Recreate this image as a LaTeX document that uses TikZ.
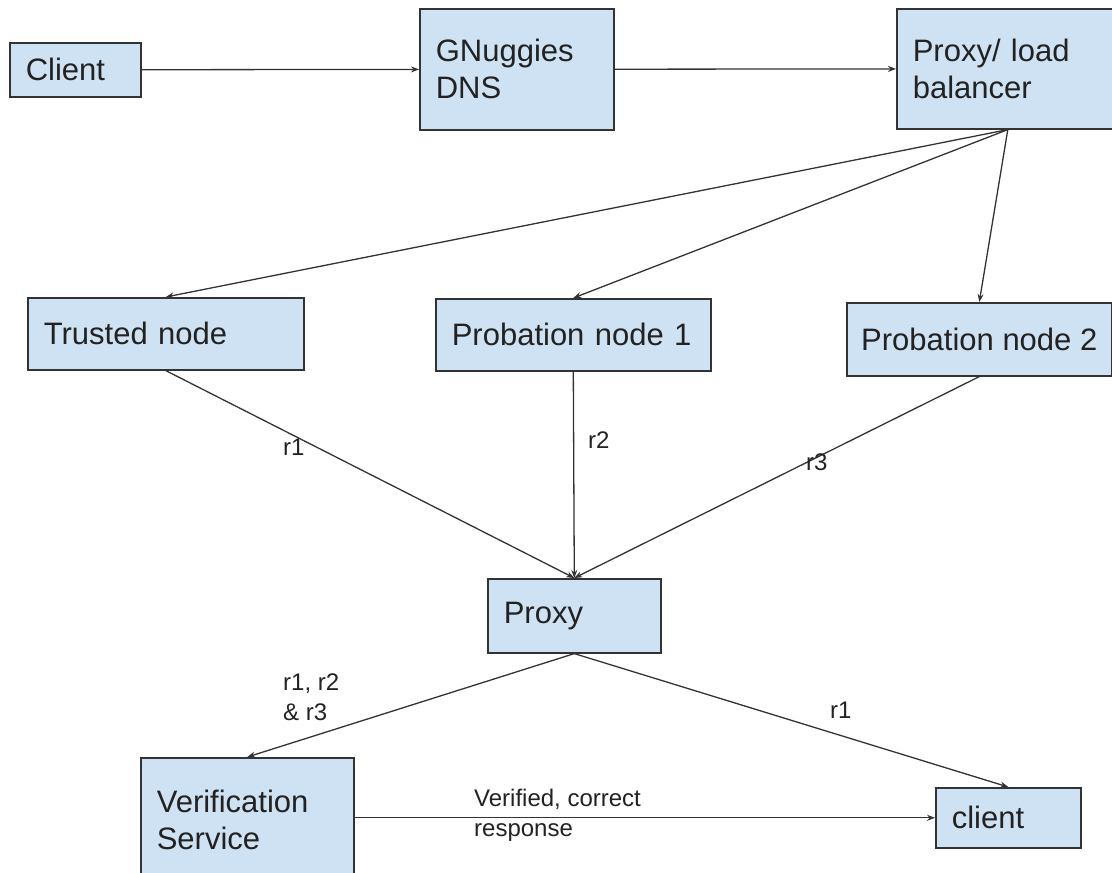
\documentclass[tikz,border=0pt]{standalone}
\usepackage{fontspec}
\setmainfont{Liberation Sans}
\usetikzlibrary{arrows.meta}
\definecolor{boxfill}{HTML}{CFE2F3}
\definecolor{ink}{HTML}{333333}
\definecolor{txt}{HTML}{222222}
\begin{document}
\begin{tikzpicture}[x=1pt,y=-1pt,
  box/.style={draw=ink, line width=1.6pt, fill=boxfill, rectangle, anchor=north west,
    inner xsep=16pt, inner ysep=0pt, align=left, text=txt,
    font=\fontsize{31}{37}\selectfont},
  lbl/.style={anchor=west, align=left, inner sep=0pt, text=txt,
    font=\fontsize{24}{30}\selectfont},
  link/.style={draw=ink, line width=1.3pt, -{Stealth[length=8pt,width=6pt]}}]
\useasboundingbox (0,0) rectangle (1112,873);

% boxes
\node[box, minimum width=131pt, minimum height=54pt, text width=99pt] (client) at (9,42) {Client};
\node[box, minimum width=194pt, minimum height=121pt, text width=162pt] (dns) at (419,8) {GNuggies\\DNS};
\node[box, minimum width=222pt, minimum height=120pt, text width=190pt] (lb) at (896,8) {Proxy/ load\\balancer};
\node[box, minimum width=276pt, minimum height=72pt, text width=244pt] (trusted) at (27,297) {Trusted node};
\node[box, minimum width=275pt, minimum height=72pt, text width=243pt] (prob1) at (435,298) {Probation node 1};
\node[box, inner xsep=2pt, minimum width=265pt, minimum height=73pt] (prob2) at (846,302) {Probation node 2};
\node[box, minimum width=173pt, minimum height=74pt, text width=141pt] (proxy) at (487,578) {Proxy};
\node[box, minimum width=213pt, minimum height=125pt, text width=181pt] (verif) at (140,757) {Verification\\Service};
\node[box, minimum width=145pt, minimum height=60pt, text width=113pt] (client2) at (935,787) {client};

% connectors
\draw[link] (client) -- (dns);
\draw[link] (dns) -- (lb);
\draw[link] (lb.south) -- (trusted.north);
\draw[link] (lb.south) -- (prob1.north);
\draw[link] (lb.south) -- (prob2.north);
\draw[link] (trusted.south) -- (proxy.north);
\draw[link] (prob1.south) -- (proxy.north);
\draw[link] (prob2.south) -- (proxy.north);
\draw[link] (proxy.south) -- (verif.north);
\draw[link] (proxy.south) -- (client2.north);
\draw[link] (verif.east |- client2.west) -- (client2.west);

% labels
\node[lbl] (l1) at (283,447) {r1};
\node[lbl] (l2) at (588,440) {r2};
\node[lbl] (l3) at (806,462) {r3};
\node[lbl] (l4) at (283,697) {r1, r2\\\& r3};
\node[lbl] (l5) at (830,710) {r1};
\node[lbl] (l6) at (474,815) {Verified, correct\\response};
\end{tikzpicture}
\end{document}
